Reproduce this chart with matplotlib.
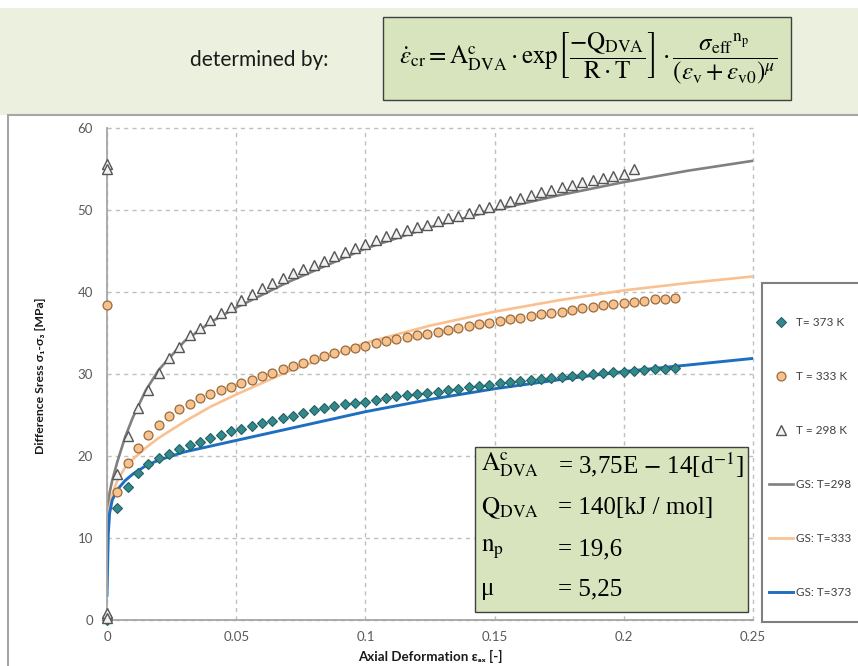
import matplotlib.pyplot as plt
from matplotlib.lines import Line2D
from matplotlib.patches import Rectangle

plt.rcParams["mathtext.fontset"] = "stix"

# ------------------------------------------------------------------------------
#   Data
# ------------------------------------------------------------------------------

# Axial strain of the measured points [-]
strain_exp = [
    0.004, 0.008, 0.012, 0.016, 0.020, 0.024, 0.028, 0.032, 0.036, 0.040,
    0.044, 0.048, 0.052, 0.056, 0.060, 0.064, 0.068, 0.072, 0.076, 0.080,
    0.084, 0.088, 0.092, 0.096, 0.100, 0.104, 0.108, 0.112, 0.116, 0.120,
    0.124, 0.128, 0.132, 0.136, 0.140, 0.144, 0.148, 0.152, 0.156, 0.160,
    0.164, 0.168, 0.172, 0.176, 0.180, 0.184, 0.188, 0.192, 0.196, 0.200,
    0.204, 0.208, 0.212, 0.216, 0.220,
]

# Difference stress [MPa], T = 298 K (51 points)
stress_298 = [
    17.8, 22.4, 25.8, 28.0, 30.1, 31.9, 33.3, 34.7, 35.6, 36.6,
    37.4, 38.2, 39.0, 39.8, 40.5, 41.1, 41.7, 42.3, 42.8, 43.3,
    43.8, 44.4, 44.9, 45.4, 45.9, 46.3, 46.8, 47.2, 47.6, 47.9,
    48.2, 48.6, 49.0, 49.3, 49.6, 50.1, 50.4, 50.7, 51.1, 51.5,
    51.8, 52.2, 52.4, 52.8, 53.0, 53.4, 53.7, 53.9, 54.1, 54.4,
    55.0,
]
# T = 333 K (55 points)
stress_333 = [
    15.6, 19.2, 21.0, 22.6, 23.8, 24.9, 25.7, 26.4, 27.1, 27.6,
    28.0, 28.4, 28.9, 29.3, 29.7, 30.1, 30.6, 31.0, 31.4, 31.8,
    32.2, 32.6, 32.9, 33.2, 33.4, 33.8, 34.0, 34.3, 34.5, 34.7,
    34.9, 35.1, 35.4, 35.6, 35.9, 36.1, 36.2, 36.5, 36.7, 36.8,
    37.1, 37.3, 37.4, 37.6, 37.8, 38.0, 38.2, 38.4, 38.5, 38.6,
    38.8, 38.9, 39.1, 39.2, 39.3,
]
# T = 373 K (55 points)
stress_373 = [
    13.7, 16.2, 17.9, 19.0, 19.7, 20.3, 20.8, 21.4, 21.7, 22.2,
    22.6, 23.0, 23.3, 23.7, 24.0, 24.3, 24.6, 24.9, 25.2, 25.6,
    25.9, 26.1, 26.3, 26.5, 26.6, 26.8, 27.1, 27.3, 27.4, 27.6,
    27.7, 27.8, 28.0, 28.2, 28.4, 28.5, 28.7, 28.9, 29.0, 29.1,
    29.3, 29.4, 29.5, 29.6, 29.8, 29.9, 30.0, 30.1, 30.2, 30.3,
    30.4, 30.5, 30.6, 30.6, 30.7,
]

# Points recorded at zero strain
stress_298_zero = [55.6, 55.0, 0.8, 0.3]
stress_333_zero = [38.4, 0.2]
stress_373_zero = [0.0]

# Model curves ("GS")
strain_fit = [
    0.0, 0.0005, 0.001, 0.002, 0.004, 0.007, 0.01, 0.015, 0.02, 0.03,
    0.04, 0.05, 0.07, 0.1, 0.125, 0.15, 0.175, 0.2, 0.225, 0.25,
]
fit_298 = [
    12.0, 14.0, 15.5, 17.0, 19.3, 22.3, 24.7, 28.0, 30.5, 34.0,
    36.3, 38.1, 41.2, 45.3, 47.9, 50.0, 51.8, 53.4, 54.8, 56.0,
]
fit_333 = [
    11.0, 12.5, 13.8, 15.3, 17.0, 18.6, 19.6, 21.0, 22.2, 24.2,
    26.0, 27.5, 30.3, 33.8, 35.9, 37.6, 39.0, 40.2, 41.1, 41.9,
]
fit_373 = [
    3.0, 10.5, 13.0, 14.6, 15.9, 17.0, 17.8, 18.8, 19.5, 20.5,
    21.2, 21.9, 23.3, 25.4, 26.9, 28.2, 29.3, 30.3, 31.1, 31.9,
]

x_ticks = [0, 0.05, 0.1, 0.15, 0.2, 0.25]
x_ticklabels = ["0", "0.05", "0.1", "0.15", "0.2", "0.25"]
y_ticks = [0, 10, 20, 30, 40, 50, 60]

params_left = [
    r"$\mathrm{A}^{\mathrm{c}}_{\mathrm{DVA}}$",
    r"$\mathrm{Q}_{\mathrm{DVA}}$",
    r"$\mathrm{n}_{\mathrm{p}}$",
    "μ",
]
params_right = [
    r"= 3,75E $-$ 14[d$^{-1}$]",
    "= 140[kJ / mol]",
    "= 19,6",
    "= 5,25",
]

formula = (
    r"$\dot{\varepsilon}_{\mathrm{cr}} = \mathrm{A}^{\mathrm{c}}_{\mathrm{DVA}}"
    r"\cdot\mathrm{exp}\left[\dfrac{-\mathrm{Q}_{\mathrm{DVA}}}"
    r"{\mathrm{R}\cdot\mathrm{T}}\right]\cdot"
    r"\dfrac{{\sigma_{\mathrm{eff}}}^{\mathrm{n}_{\mathrm{p}}}}"
    r"{(\varepsilon_{\mathrm{v}}+\varepsilon_{\mathrm{v0}})^{\mu}}$"
)

# ------------------------------------------------------------------------------
#   Figure lay-out (pixel helpers)
# ------------------------------------------------------------------------------

W, H = 858, 666


def fx(px):
    return px / W


def fy(py):
    return 1 - py / H


sans = ["Lato", "DejaVu Sans"]
serif = ["Liberation Serif", "DejaVu Serif"]
c_tick = "#595959"

fig = plt.figure(figsize=(W / 100, H / 100), dpi=100)

# Header band and chart panel
fig.patches.append(
    Rectangle((0, fy(115)), 1, fy(8) - fy(115), transform=fig.transFigure,
              facecolor="#ebf1de", edgecolor="none", zorder=-2)
)
fig.patches.append(
    Rectangle((fx(8), -0.05), 1, fy(115) + 0.05, transform=fig.transFigure,
              facecolor="white", edgecolor="#a6a6a6", lw=1.5, zorder=-1)
)

# Formula box
fig.patches.append(
    Rectangle((fx(383), fy(100)), fx(791) - fx(383), fy(17) - fy(100),
              transform=fig.transFigure, facecolor="#d7e4bd",
              edgecolor="#404040", lw=1.0, zorder=1)
)
fig.text(fx(588), fy(59), formula, fontsize=18, ha="center", va="center",
         zorder=2)
fig.text(fx(259), fy(60), "determined by:", fontsize=15, family=sans,
         color="#1a1a1a", ha="center", va="center")

# ------------------------------------------------------------------------------
#   Axes
# ------------------------------------------------------------------------------

ax = fig.add_axes([fx(107), fy(620), fx(753) - fx(107), fy(128) - fy(620)])
ax.set_xlim(0, 0.25)
ax.set_ylim(0, 60)

ax.plot(strain_fit, fit_298, color="#808080", lw=1.9, zorder=2)
ax.plot(strain_fit, fit_333, color="#fac090", lw=1.9, zorder=2)
ax.plot(strain_fit, fit_373, color="#1f6fc1", lw=2.1, zorder=2)

style_373 = dict(ls="none", marker="D", ms=4.8, mfc="#32898c", mec="#235f62",
                 mew=0.8)
style_333 = dict(ls="none", marker="o", ms=6.4, mfc="#f6c290", mec="#9a6a3a",
                 mew=0.9)
style_298 = dict(ls="none", marker="^", ms=6.6, mfc="#f2f2f2", mec="#555555",
                 mew=1.0)

ax.plot(strain_exp, stress_373, clip_on=False, zorder=3, **style_373)
ax.plot(strain_exp, stress_333, clip_on=False, zorder=3, **style_333)
ax.plot(strain_exp[:51], stress_298, clip_on=False, zorder=3, **style_298)
ax.plot([0] * len(stress_373_zero), stress_373_zero, clip_on=False, zorder=3,
        **style_373)
ax.plot([0] * len(stress_333_zero), stress_333_zero, clip_on=False, zorder=3,
        **style_333)
ax.plot([0] * len(stress_298_zero), stress_298_zero, clip_on=False, zorder=3,
        **style_298)

ax.set_xticks(x_ticks)
ax.set_xticklabels(x_ticklabels)
ax.set_yticks(y_ticks)
ax.tick_params(length=0, labelsize=9.5, labelcolor=c_tick)
ax.tick_params(axis="x", pad=8)
ax.tick_params(axis="y", pad=10)
for lbl in ax.get_xticklabels() + ax.get_yticklabels():
    lbl.set_family(sans)

ax.grid(True, color="#bfbfbf", lw=1.0, ls=(0, (3, 3)))
for gl in ax.get_xgridlines() + ax.get_ygridlines():
    gl.set_clip_on(False)
ax.set_axisbelow(True)

for side in ["top", "right"]:
    ax.spines[side].set_visible(False)
for side in ["left", "bottom"]:
    ax.spines[side].set_color("#a6a6a6")
    ax.spines[side].set_linewidth(1.3)

fig.text(fx(41), fy(376), "Difference Sress σ₁-σ₃ [MPa]", rotation=90,
         fontsize=8.8, fontweight="bold", family=sans, color="#1a1a1a",
         ha="center", va="center")
fig.text(fx(430), fy(656), "Axial Deformation εₐₓ [-]", fontsize=9.6,
         fontweight="bold", family=sans, color="#1a1a1a", ha="center",
         va="center")

# ------------------------------------------------------------------------------
#   Parameter box
# ------------------------------------------------------------------------------

fig.patches.append(
    Rectangle((fx(475), fy(612)), fx(748) - fx(475), fy(447) - fy(612),
              transform=fig.transFigure, facecolor="#d7e4bd",
              edgecolor="#404040", lw=1.0, zorder=4)
)
row_y = [465, 508, 549, 589]
for txt_l, txt_r, py in zip(params_left, params_right, row_y):
    fig.text(fx(481), fy(py), txt_l, fontsize=18, family=serif, ha="left",
             va="center", zorder=5)
    fig.text(fx(558), fy(py), txt_r, fontsize=18, family=serif, ha="left",
             va="center", zorder=5)

# ------------------------------------------------------------------------------
#   Legend
# ------------------------------------------------------------------------------

fig.patches.append(
    Rectangle((fx(762), fy(622)), 0.3, fy(283) - fy(622),
              transform=fig.transFigure, facecolor="white",
              edgecolor="#7f7f7f", lw=1.5, zorder=4)
)
handles = [
    Line2D([], [], **style_373),
    Line2D([], [], **style_333),
    Line2D([], [], **style_298),
    Line2D([], [], color="#808080", lw=1.9),
    Line2D([], [], color="#fac090", lw=1.9),
    Line2D([], [], color="#1f6fc1", lw=2.1),
]
labels = ["T= 373 K", "T = 333 K", "T = 298 K", "GS: T=298", "GS: T=333",
          "GS: T=373"]
leg = fig.legend(handles, labels, loc="upper left",
                 bbox_to_anchor=(fx(769), fy(317)), frameon=False,
                 borderpad=0, borderaxespad=0, labelspacing=3.65,
                 handlelength=2.0, handletextpad=0.25,
                 prop={"family": sans, "size": 8.5})
leg.set_zorder(6)
for t in leg.get_texts():
    t.set_color("#404040")

fig.savefig("out.png", dpi=100)
